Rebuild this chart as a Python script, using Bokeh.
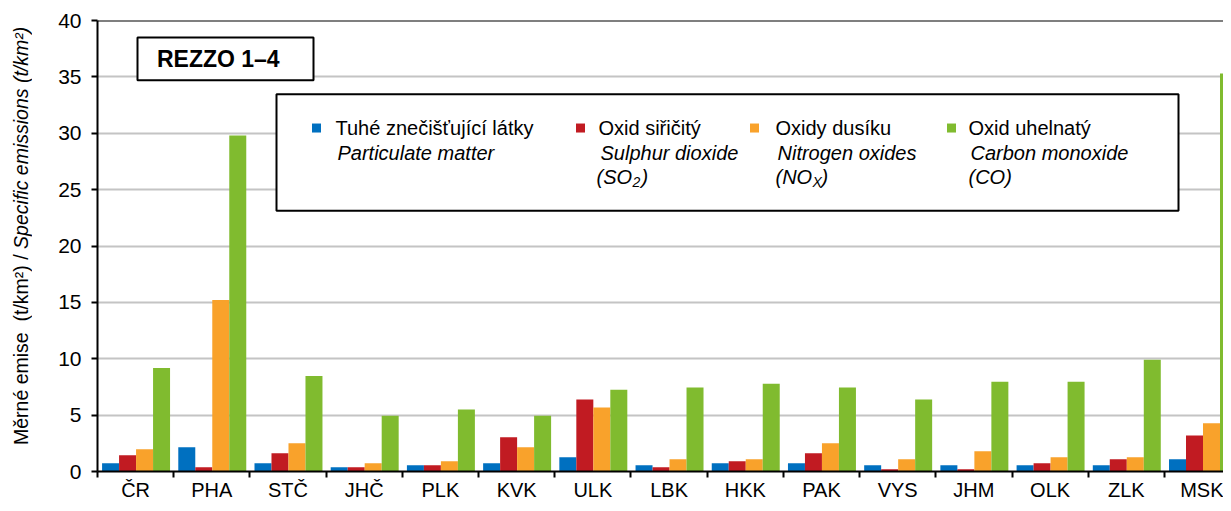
import numpy as np
from bokeh.plotting import figure
from bokeh.layouts import row
from bokeh.models import (ColumnDataSource, Range1d, FixedTicker, Span, BoxAnnotation, Label, Div)
from bokeh.embed import file_html
from bokeh.resources import INLINE

# ---------------- data ----------------
categories = ["ČR", "PHA", "STČ", "JHČ", "PLK", "KVK", "ULK", "LBK", "HKK", "PAK",
              "VYS", "JHM", "OLK", "ZLK", "MSK"]
tzl = [0.73, 2.14, 0.73, 0.38, 0.56, 0.73, 1.26, 0.56, 0.73, 0.73, 0.56, 0.56, 0.56, 0.56, 1.09]
so2 = [1.44, 0.38, 1.62, 0.38, 0.56, 3.03, 6.38, 0.38, 0.91, 1.62, 0.20, 0.20, 0.73, 1.09, 3.20]
nox = [1.97, 15.2, 2.50, 0.73, 0.91, 2.14, 5.68, 1.09, 1.09, 2.50, 1.09, 1.79, 1.26, 1.26, 4.27]
co = [9.18, 29.8, 8.47, 4.94, 5.50, 4.94, 7.26, 7.44, 7.79, 7.44, 6.38, 7.97, 7.97, 9.91, 35.3]
y_ticks = [0, 5, 10, 15, 20, 25, 30, 35, 40]

series_cz = ["Tuhé znečišťující látky", "Oxid siřičitý", "Oxidy dusíku", "Oxid uhelnatý"]
series_en = ["Particulate matter", "Sulphur dioxide", "Nitrogen oxides", "Carbon monoxide"]
colors = ["#0070c0", "#c11b22", "#f9a22b", "#80bb2f"]

y_label_cz = "Měrné emise&nbsp; (t/km²) / "
y_label_en = "Specific emissions (t/km²)"

FONT = "Liberation Sans"

# ---------------- layout ----------------
TOTAL_W, H = 1223, 503
DIV_W = 35
W = TOTAL_W - DIV_W
LEFT_REF = 97                 # frame left in page coordinates
LEFT = LEFT_REF - DIV_W       # frame left inside the figure
TOP, BOTTOM = 20, 30
frame_w = W - LEFT
frame_h = H - TOP - BOTTOM
unit = 76.21

p = figure(width=W, height=H, output_backend="svg", toolbar_location=None,
           x_range=Range1d(0, frame_w / unit), y_range=Range1d(0, 40),
           min_border_left=LEFT, min_border_right=0, min_border_top=TOP,
           min_border_bottom=BOTTOM)
p.outline_line_color = None
p.background_fill_color = "white"

# helpers: page pixel -> data coords
def px(x):
    return (x - LEFT_REF) / unit

def py(y):
    return (TOP + frame_h - y) / frame_h * 40

# bars
n = len(categories)
centers = np.arange(n) + 0.5
bw = 0.223
offsets = [-1.5 * bw, -0.5 * bw, 0.5 * bw, 1.5 * bw]
for vals, col, off in zip([tzl, so2, nox, co], colors, offsets):
    src = ColumnDataSource(dict(x=centers + off + 0.006, top=vals))
    p.vbar(x="x", top="top", width=bw, bottom=0, source=src, fill_color=col, line_color=None)

# axes
p.xaxis.ticker = FixedTicker(ticks=list(centers), minor_ticks=list(range(0, n + 1)))
p.xaxis.major_label_overrides = {float(c): lab for c, lab in zip(centers, categories)}
p.xaxis.major_tick_line_color = None
p.xaxis.major_tick_out = 0
p.xaxis.minor_tick_line_color = "black"
p.xaxis.minor_tick_line_width = 2
p.xaxis.minor_tick_out = 6
p.xaxis.minor_tick_in = 0
p.xaxis.major_label_standoff = 1
p.xaxis.axis_line_width = 2
p.xaxis.axis_line_color = "black"
p.xaxis.major_label_text_font = FONT
p.xaxis.major_label_text_font_size = "20px"
p.xaxis.major_label_text_color = "black"

p.yaxis.ticker = FixedTicker(ticks=y_ticks)
p.yaxis.minor_tick_line_color = None
p.yaxis.major_tick_out = 6
p.yaxis.major_tick_in = 0
p.yaxis.major_tick_line_width = 2
p.yaxis.axis_line_width = 2
p.yaxis.axis_line_color = "black"
p.yaxis.major_label_standoff = 10
p.yaxis.major_label_text_font = FONT
p.yaxis.major_label_text_font_size = "21px"
p.yaxis.major_label_text_color = "black"

p.xgrid.grid_line_color = None
p.ygrid.grid_line_color = "#c4c4c4"
p.ygrid.grid_line_width = 2
p.add_layout(Span(location=40, dimension="width", line_color="black", line_width=2))

# REZZO box
p.add_layout(BoxAnnotation(left=px(137), right=px(313), top=py(37), bottom=py(80),
                           fill_color="white", fill_alpha=1, line_color="black",
                           line_alpha=1, line_width=2))
p.add_layout(Label(x=px(221), y=py(58.5), text="REZZO  1–4", text_align="center",
                   text_baseline="middle", text_font=FONT, text_font_style="bold",
                   text_font_size="23px", text_color="black"))

# legend box
p.add_layout(BoxAnnotation(left=px(276), right=px(1178), top=py(94), bottom=py(211),
                           fill_color="white", fill_alpha=1, line_color="black",
                           line_alpha=1, line_width=2))
sq_x = [316, 580, 754, 951]
txt_x = [335, 598, 775, 968]
row1, row2, row3 = 128, 153, 177
leg = ColumnDataSource(dict(x=[px(v) for v in sq_x], y=[py(row1)] * 4, c=colors))
r = p.scatter(x="x", y="y", marker="square", size=9, fill_color="c", line_color=None, source=leg)
r.level = "overlay"
for tx, cz, en in zip(txt_x, series_cz, series_en):
    p.add_layout(Label(x=px(tx), y=py(row1), text=cz, text_align="left", text_baseline="middle",
                       text_font=FONT, text_font_size="20px", text_color="black"))
    p.add_layout(Label(x=px(tx + 2), y=py(row2), text=en, text_align="left", text_baseline="middle",
                       text_font=FONT, text_font_style="italic", text_font_size="20px",
                       text_color="black"))

def sub_label(x0, main, sub, main_w):
    p.add_layout(Label(x=px(x0), y=py(row3), text=main, text_align="left", text_baseline="middle",
                       text_font=FONT, text_font_style="italic", text_font_size="20px",
                       text_color="black"))
    p.add_layout(Label(x=px(x0 + main_w), y=py(row3 + 5), text=sub, text_align="left",
                       text_baseline="middle", text_font=FONT, text_font_style="italic",
                       text_font_size="14px", text_color="black"))
    p.add_layout(Label(x=px(x0 + main_w + 9), y=py(row3), text=")", text_align="left",
                       text_baseline="middle", text_font=FONT, text_font_style="italic",
                       text_font_size="20px", text_color="black"))

sub_label(txt_x[1] - 2, "(SO", "2", 36)
sub_label(txt_x[2], "(NO", "X", 37)
p.add_layout(Label(x=px(txt_x[3]), y=py(row3), text="(CO)", text_align="left", text_baseline="middle",
                   text_font=FONT, text_font_style="italic", text_font_size="20px", text_color="black"))

# rotated y-axis title with regular + italic parts
ylab_html = (
    '<div style="writing-mode: vertical-rl; transform: rotate(180deg); '
    'height: 456px; margin-top: 8px; margin-left: 10px; width: 22px; line-height: 22px; '
    'text-align: center; white-space: nowrap; color: black; '
    "font-family: 'Liberation Sans', Arial, sans-serif; font-size: 19.5px;\">"
    + y_label_cz + "<i>" + y_label_en + "</i></div>"
)
div = Div(text=ylab_html, width=DIV_W, height=H, margin=(0, 0, 0, 0))

layout = row(div, p, spacing=0)
open("out.html", "w").write(file_html(layout, INLINE))
